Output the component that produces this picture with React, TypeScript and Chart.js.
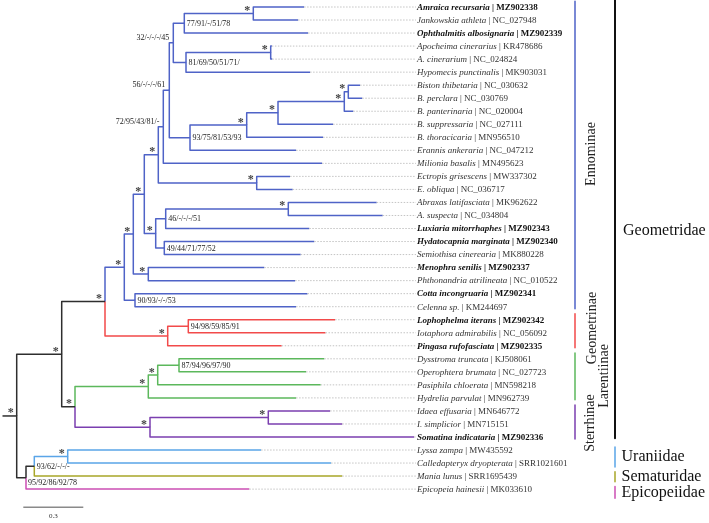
import React, { useEffect, useRef } from "react";
import { Chart, registerables } from "chart.js";

Chart.register(...registerables);

// ---------- DATA ----------
const leafNames = [
  "Amraica recursaria", "Jankowskia athleta", "Ophthalmitis albosignaria", "Apocheima cinerarius",
  "A. cinerarium", "Hypomecis punctinalis", "Biston thibetaria", "B. perclara", "B. panterinaria",
  "B. suppressaria", "B. thoracicaria", "Erannis ankeraria", "Milionia basalis", "Ectropis grisescens",
  "E. obliqua", "Abraxas latifasciata", "A. suspecta", "Luxiaria mitorrhaphes", "Hydatocapnia marginata",
  "Semiothisa cinerearia", "Menophra senilis", "Phthonandria atrilineata", "Cotta incongruaria",
  "Celenna sp.", "Lophophelma iterans", "Iotaphora admirabilis", "Pingasa rufofasciata",
  "Dysstroma truncata", "Operophtera brumata", "Pasiphila chloerata", "Hydrelia parvulat",
  "Idaea effusaria", "I. simplicior", "Somatina indicataria", "Lyssa zampa",
  "Calledapteryx dryopterata", "Mania lunus", "Epicopeia hainesii",
];
const leafAccessions = [
  "MZ902338", "NC_027948", "MZ902339", "KR478686", "NC_024824", "MK903031", "NC_030632", "NC_030769",
  "NC_020004", "NC_027111", "MN956510", "NC_047212", "MN495623", "MW337302", "NC_036717", "MK962622",
  "NC_034804", "MZ902343", "MZ902340", "MK880228", "MZ902337", "NC_010522", "MZ902341", "KM244697",
  "MZ902342", "NC_056092", "MZ902335", "KJ508061", "NC_027723", "MN598218", "MN962739", "MN646772",
  "MN715151", "MZ902336", "MW435592", "SRR1021601", "SRR1695439", "MK033610",
];
const boldLeaves = [0, 2, 17, 18, 20, 22, 24, 26, 33];
// cumulative branch length from the root to each tip
const leafDepths = [
  1.437, 1.407, 1.457, 1.276, 1.278, 1.467, 1.717, 1.728, 1.683, 1.582, 1.532, 1.397, 1.527,
  1.367, 1.380, 1.800, 1.830, 1.463, 1.488, 1.420, 1.238, 1.392, 1.454, 1.397, 1.592, 1.544,
  1.325, 1.538, 1.447, 1.520, 1.397, 1.567, 1.628, 1.987, 1.222, 1.572, 1.628, 1.163,
];

// internal nodes: id, depth, children (strings = nodes, numbers = leaves)
const nodeIds = [
  "R", "A", "B", "E", "F", "G", "H", "I", "J", "K", "K1", "K2", "K1a", "K2a", "BG", "BG1", "BG2",
  "BG3", "BG4", "LH", "LX", "HS", "AB", "CC", "MP", "EC", "Gm", "Gm1", "C", "L", "L1", "L2", "S",
  "S1", "D", "D1", "U",
];
const nodeDepths = [
  0.0, 0.225, 0.4415, 0.538, 0.583, 0.638, 0.708, 0.733, 0.763, 0.783, 0.838, 0.8465, 1.183, 1.27,
  0.8665, 1.15, 1.3065, 1.638, 1.658, 0.695, 0.745, 0.738, 1.358, 0.5915, 0.658, 1.2, 0.755, 0.858,
  0.2915, 0.658, 0.705, 0.8115, 0.6665, 1.258, 0.0465, 0.088, 0.255,
];
const nodeChildren: (string | number)[][] = [
  ["A", "D"], ["B", "C"], ["E", "Gm"], ["F", "CC"], ["G", "MP"], ["H", "LH"], ["I", "EC"], ["J", 12],
  ["K", "BG"], ["K1", "K2"], ["K1a", 2], ["K2a", 5], [0, 1], [3, 4], ["BG1", 11], ["BG2", 10],
  ["BG3", 9], ["BG4", 8], [6, 7], ["LX", "HS"], ["AB", 17], [18, 19], [15, 16], [22, 23], [20, 21],
  [13, 14], ["Gm1", 26], [24, 25], ["L", "S"], ["L1", 30], ["L2", 29], [27, 28], ["S1", 33], [31, 32],
  ["D1", 37], ["U", 36], [34, 35],
];

const supportNodes = ["K1", "K2", "K", "J", "I", "BG", "LX", "HS", "CC", "Gm1", "L2", "D1", "D"];
const supportTexts = [
  "77/91/-/51/78", "81/69/50/51/71/", "32/-/-/-/45", "56/-/-/-/61", "72/95/43/81/-", "93/75/81/53/93",
  "46/-/-/-/51", "49/44/71/77/52", "90/93/-/-/53", "94/98/59/85/91", "87/94/96/97/90", "93/62/-/-/-",
  "95/92/86/92/78",
];
const supportPlaces = ["in", "in", "above", "above", "above", "in", "in", "in", "in", "in", "in", "in", "below"];
const starNodes = [
  "R", "A", "B", "E", "F", "G", "H", "LH", "MP", "K1a", "K2a", "BG1", "BG2", "BG3", "BG4", "EC", "AB",
  "Gm", "C", "L", "L1", "S", "S1", "U",
];

const cladeRoots: (string | number)[] = ["E", "Gm", "L", "S", "U", 36, 37];
const cladeColors = ["#4f63c7", "#f24a4a", "#5cb85c", "#7b3fb0", "#5aa5e8", "#a8a628", "#cc4fb4"];
const baseColor = "#2e2e2e";

const subfamilyNames = ["Ennominae", "Geometrinae", "Larentiinae", "Sterrhinae"];
const subfamilyFirst = [0, 24, 27, 31];
const subfamilyLast = [23, 26, 30, 33];
const subfamilyColors = ["#4f63c7", "#f24a4a", "#5cb85c", "#7b3fb0"];

const familyNames = ["Geometridae", "Uraniidae", "Sematuridae", "Epicopeiidae"];
const familyColors = ["#111111", "#5aa5e8", "#a8a628", "#cc4fb4"];

const scaleBarValue = 0.3;

// ---------- LAYOUT ----------
const W = 709;
const H = 523;
const PX_PER_UNIT = 200;
const ROOT_PX = 16.7;
const ROW0_PX = 7;
const ROW_PX = 13.03;
const xMin = -ROOT_PX / PX_PER_UNIT;
const xMax = (W - ROOT_PX) / PX_PER_UNIT;
const yMin = -ROW0_PX / ROW_PX;
const yMax = yMin + H / ROW_PX;
const pxToX = (px: number) => (px - ROOT_PX) / PX_PER_UNIT;
const pxToRow = (py: number) => (py - ROW0_PX) / ROW_PX;

const LABEL_PX = 417;
const SUB_BAR_PX = 575;
const FAM_BAR_PX = 615;
const SERIF = '"Liberation Serif", "Times New Roman", serif';

export default function App() {
  const ref = useRef<HTMLCanvasElement | null>(null);

  useEffect(() => {
    const canvas = ref.current;
    if (!canvas) return;

    const depth: Record<string, number> = {};
    const kids: Record<string, (string | number)[]> = {};
    nodeIds.forEach((id, i) => {
      depth[id] = nodeDepths[i];
      kids[id] = nodeChildren[i];
    });
    const yOf = (c: string | number): number => {
      if (typeof c === "number") return c;
      const ch = kids[c];
      return (yOf(ch[0]) + yOf(ch[ch.length - 1])) / 2;
    };
    const dOf = (c: string | number) => (typeof c === "number" ? leafDepths[c] : depth[c]);

    const datasets: any[] = [];
    const line = (pts: { x: number; y: number }[], color: string, width = 1.5, dash: number[] = []) =>
      datasets.push({
        data: pts,
        borderColor: color,
        borderWidth: width,
        borderDash: dash,
        pointRadius: 0,
        fill: false,
        tension: 0,
        borderCapStyle: "butt",
        borderJoinStyle: "round",
      });

    // leader lines
    const labelX = pxToX(LABEL_PX - 1);
    leafNames.forEach((_, i) => {
      if (leafDepths[i] < labelX - 0.005)
        line([{ x: leafDepths[i], y: i }, { x: labelX, y: i }], "#c4c4c4", 1, [1.5, 1.5]);
    });

    // branches
    const rootY = yOf("R");
    line([{ x: pxToX(2.5), y: rootY }, { x: 0, y: rootY }], baseColor);
    const walk = (id: string, color: string) => {
      const px = depth[id];
      const py = yOf(id);
      for (const c of kids[id]) {
        const k = cladeRoots.indexOf(c);
        const col = k >= 0 ? cladeColors[k] : color;
        const cy = yOf(c);
        line([{ x: px, y: py }, { x: px, y: cy }, { x: dOf(c), y: cy }], col);
        if (typeof c === "string") walk(c, col);
      }
    };
    walk("R", baseColor);

    // subfamily bars
    subfamilyNames.forEach((_, i) => {
      line(
        [{ x: pxToX(SUB_BAR_PX), y: subfamilyFirst[i] - 0.45 }, { x: pxToX(SUB_BAR_PX), y: subfamilyLast[i] + 0.15 }],
        subfamilyColors[i],
        1.5
      );
    });
    // family bars
    const famSpans = [
      [-0.5, 33.1],
      [33.77, 35.3],
      [35.67, 36.44],
      [36.8, 37.7],
    ];
    familyNames.forEach((_, i) => {
      line(
        [{ x: pxToX(FAM_BAR_PX), y: famSpans[i][0] }, { x: pxToX(FAM_BAR_PX), y: famSpans[i][1] }],
        familyColors[i],
        i === 0 ? 2 : 1.5
      );
    });
    // scale bar
    const sbRow = pxToRow(507.3);
    line([{ x: pxToX(23.3), y: sbRow }, { x: pxToX(23.3) + scaleBarValue, y: sbRow }], "#8a8a8a", 1.5);

    const textPlugin = {
      id: "treeText",
      afterDatasetsDraw(chart: any) {
        const ctx = chart.ctx as CanvasRenderingContext2D;
        const xs = chart.scales.x;
        const ys = chart.scales.y;
        const X = (v: number) => xs.getPixelForValue(v);
        const Y = (v: number) => ys.getPixelForValue(v);
        ctx.save();

        // leaf labels
        ctx.textBaseline = "middle";
        ctx.textAlign = "left";
        leafNames.forEach((name, i) => {
          const bold = boldLeaves.includes(i);
          const y = Y(i) + 0.5;
          let x = LABEL_PX;
          ctx.fillStyle = bold ? "#111" : "#333";
          ctx.font = `italic ${bold ? "bold " : ""}9px ${SERIF}`;
          ctx.fillText(name, x, y);
          x += ctx.measureText(name).width;
          ctx.font = `${bold ? "bold " : ""}9px ${SERIF}`;
          ctx.fillText(" | " + leafAccessions[i], x, y);
        });

        // support values
        ctx.font = `8px ${SERIF}`;
        ctx.fillStyle = "#222";
        supportNodes.forEach((id, i) => {
          const nx = X(depth[id]);
          const ny = Y(yOf(id));
          const place = supportPlaces[i];
          if (place === "in") {
            ctx.textAlign = "left";
            ctx.fillText(supportTexts[i], nx + 2.5, ny + 0.5);
          } else if (place === "above") {
            ctx.textAlign = "right";
            ctx.fillText(supportTexts[i], nx - 4, ny - 5);
          } else {
            ctx.textAlign = "left";
            ctx.fillText(supportTexts[i], nx + 2, ny + 5);
          }
        });

        // asterisks
        ctx.font = `bold 12px ${SERIF}`;
        ctx.fillStyle = "#444";
        ctx.textAlign = "center";
        ctx.textBaseline = "alphabetic";
        starNodes.forEach((id) => {
          ctx.fillText("*", X(depth[id]) - 6, Y(yOf(id)) + 0.5);
        });

        // subfamily names (rotated)
        ctx.fillStyle = "#222";
        ctx.font = `14px ${SERIF}`;
        ctx.textAlign = "center";
        ctx.textBaseline = "middle";
        const subPos = [
          [591.5, 154],
          [592, 328],
          [604, 376],
          [590.5, 423],
        ];
        subfamilyNames.forEach((n, i) => {
          ctx.save();
          ctx.translate(subPos[i][0], subPos[i][1]);
          ctx.rotate(-Math.PI / 2);
          ctx.fillText(n, 0, 0);
          ctx.restore();
        });

        // family names
        ctx.font = `16px ${SERIF}`;
        ctx.textAlign = "left";
        ctx.fillStyle = "#111";
        const famPos = [
          [623, 231],
          [621.5, 457],
          [621.5, 477],
          [621.5, 493],
        ];
        familyNames.forEach((n, i) => ctx.fillText(n, famPos[i][0], famPos[i][1]));

        // scale bar label
        ctx.font = `7px ${SERIF}`;
        ctx.textAlign = "center";
        ctx.fillStyle = "#333";
        ctx.fillText(String(scaleBarValue), X(pxToX(23.3) + scaleBarValue / 2), 516.5);

        ctx.restore();
      },
    };

    const chart = new Chart(canvas, {
      type: "line",
      data: { datasets },
      options: {
        animation: false,
        responsive: false,
        maintainAspectRatio: false,
        devicePixelRatio: 1,
        layout: { padding: 0 },
        events: [],
        plugins: { legend: { display: false }, tooltip: { enabled: false } },
        scales: {
          x: { type: "linear", display: false, min: xMin, max: xMax },
          y: { type: "linear", display: false, min: yMin, max: yMax, reverse: true },
        },
      },
      plugins: [textPlugin],
    } as any);

    return () => chart.destroy();
  }, []);

  return (
    <div style={{ position: "fixed", left: 0, top: 0, width: W, height: H, background: "#fff" }}>
      <canvas ref={ref} width={W} height={H} style={{ display: "block", width: W, height: H }} />
    </div>
  );
}
